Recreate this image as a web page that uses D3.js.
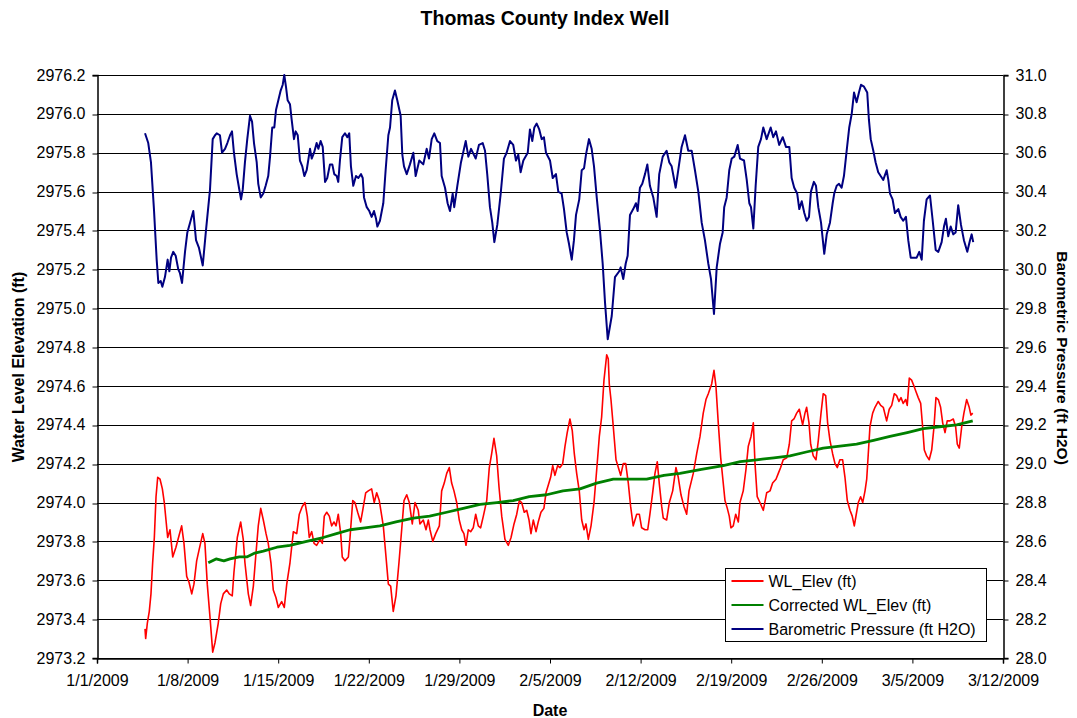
<!DOCTYPE html>
<html>
<head>
<meta charset="utf-8">
<script src="https://cdn.jsdelivr.net/npm/d3@7"></script>
<style>
  body { margin: 0; background: #fff; }
  svg text { font-family: "Liberation Sans", Arial, sans-serif; }
</style>
</head>
<body>
<div id="chart"></div>
<script>
// days since 1/1/2009, value
const startDate = Date.UTC(2009, 0, 1);
const tickDays = [0, 7, 14, 21, 28, 35, 42, 49, 56, 63, 70];
const leftTicks = d3.range(0, 16).map(i => 2973.2 + i * 0.2);
const rightTicks = d3.range(0, 16).map(i => 28.0 + i * 0.2);

const seriesNames = ['WL_Elev (ft)', 'Corrected WL_Elev (ft)', 'Barometric Pressure (ft H2O)'];
const seriesColors = ['#ff0000', '#008000', '#000080'];

const wlElev = [
  [3.71,2973.35],[3.76,2973.30],[3.89,2973.38],[4.04,2973.44],[4.17,2973.53],[4.30,2973.69],[4.43,2973.82],[4.56,2974.03],
  [4.69,2974.13],[4.87,2974.12],[5.05,2974.07],[5.20,2974.00],[5.33,2973.91],[5.46,2973.82],[5.64,2973.86],[5.85,2973.72],
  [6.10,2973.77],[6.34,2973.83],[6.54,2973.88],[6.72,2973.79],[6.93,2973.62],[7.11,2973.59],[7.32,2973.53],[7.49,2973.58],
  [7.70,2973.70],[7.90,2973.76],[8.17,2973.84],[8.34,2973.79],[8.52,2973.58],[8.73,2973.41],[8.94,2973.23],[9.12,2973.28],
  [9.37,2973.38],[9.56,2973.48],[9.76,2973.53],[10.02,2973.55],[10.22,2973.53],[10.45,2973.52],[10.58,2973.64],[10.84,2973.82],
  [11.10,2973.90],[11.30,2973.81],[11.43,2973.69],[11.69,2973.53],[11.87,2973.47],[12.08,2973.57],[12.26,2973.72],[12.46,2973.88],
  [12.65,2973.97],[12.85,2973.91],[13.06,2973.84],[13.23,2973.79],[13.44,2973.69],[13.62,2973.55],[13.83,2973.51],[14.01,2973.46],
  [14.27,2973.49],[14.47,2973.46],[14.66,2973.58],[14.91,2973.69],[15.17,2973.85],[15.43,2973.84],[15.63,2973.94],[15.86,2973.98],
  [16.07,2974.00],[16.25,2973.93],[16.40,2973.82],[16.59,2973.85],[16.77,2973.79],[16.97,2973.78],[17.23,2973.81],[17.41,2973.79],
  [17.56,2973.93],[17.75,2973.95],[17.95,2973.93],[18.13,2973.88],[18.31,2973.90],[18.47,2973.88],[18.64,2973.94],[18.83,2973.84],
  [18.95,2973.72],[19.16,2973.70],[19.42,2973.72],[19.55,2973.82],[19.76,2974.01],[19.93,2974.00],[20.14,2973.95],[20.37,2973.90],
  [20.53,2973.96],[20.76,2974.05],[20.96,2974.06],[21.22,2974.07],[21.42,2974.00],[21.61,2974.05],[21.81,2974.01],[22.12,2973.88],
  [22.33,2973.72],[22.51,2973.58],[22.69,2973.57],[22.89,2973.44],[23.10,2973.52],[23.33,2973.69],[23.54,2973.86],[23.72,2974.01],
  [23.93,2974.04],[24.13,2974.00],[24.36,2973.89],[24.57,2974.00],[24.82,2973.96],[24.95,2973.89],[25.21,2973.91],[25.42,2973.86],
  [25.60,2973.91],[25.73,2973.86],[25.94,2973.80],[26.17,2973.84],[26.45,2973.88],[26.63,2974.06],[26.83,2974.10],[27.02,2974.15],
  [27.22,2974.18],[27.40,2974.10],[27.58,2974.06],[27.79,2974.00],[27.99,2973.91],[28.18,2973.86],[28.35,2973.84],[28.51,2973.78],
  [28.69,2973.86],[28.87,2973.85],[29.07,2973.87],[29.26,2973.94],[29.46,2973.88],[29.64,2973.87],[29.85,2973.93],[30.11,2974.01],
  [30.31,2974.18],[30.49,2974.25],[30.67,2974.33],[30.88,2974.24],[31.06,2974.08],[31.27,2973.93],[31.52,2973.81],[31.78,2973.78],
  [31.99,2973.82],[32.22,2973.89],[32.43,2973.94],[32.63,2974.01],[32.81,2974.00],[33.01,2973.95],[33.20,2973.96],[33.38,2973.91],
  [33.53,2973.84],[33.71,2973.91],[33.92,2973.85],[34.09,2973.90],[34.30,2973.95],[34.53,2973.97],[34.69,2974.05],[34.87,2974.09],
  [35.05,2974.13],[35.21,2974.19],[35.38,2974.14],[35.59,2974.19],[35.77,2974.18],[35.98,2974.20],[36.16,2974.29],[36.33,2974.36],
  [36.54,2974.43],[36.72,2974.37],[36.88,2974.25],[37.06,2974.15],[37.26,2974.06],[37.45,2973.91],[37.63,2973.86],[37.78,2973.89],
  [37.96,2973.81],[38.17,2973.88],[38.40,2974.00],[38.61,2974.17],[38.81,2974.34],[38.99,2974.44],[39.17,2974.63],[39.38,2974.76],
  [39.50,2974.74],[39.58,2974.61],[39.71,2974.53],[39.89,2974.39],[40.10,2974.22],[40.28,2974.18],[40.46,2974.14],[40.66,2974.20],
  [40.85,2974.20],[41.05,2974.10],[41.23,2973.98],[41.43,2973.88],[41.70,2973.94],[41.90,2973.94],[42.08,2973.87],[42.34,2973.86],
  [42.55,2973.86],[42.72,2973.94],[42.93,2974.05],[43.11,2974.15],[43.29,2974.21],[43.44,2974.10],[43.63,2973.98],[43.75,2973.92],
  [44.01,2973.91],[44.22,2974.00],[44.48,2974.06],[44.73,2974.18],[44.91,2974.13],[45.12,2974.04],[45.35,2973.98],[45.56,2973.94],
  [45.74,2974.06],[46.07,2974.15],[46.33,2974.25],[46.59,2974.34],[46.84,2974.46],[47.05,2974.53],[47.23,2974.56],[47.49,2974.61],
  [47.67,2974.68],[47.82,2974.60],[48.00,2974.41],[48.19,2974.23],[48.34,2974.13],[48.52,2974.01],[48.70,2973.97],[48.85,2973.93],
  [48.98,2973.87],[49.16,2973.88],[49.35,2973.94],[49.55,2973.90],[49.68,2974.00],[49.93,2974.06],[50.14,2974.17],[50.32,2974.29],
  [50.53,2974.34],[50.71,2974.41],[50.84,2974.20],[51.01,2974.03],[51.22,2974.00],[51.48,2973.96],[51.74,2974.05],[52.00,2974.06],
  [52.20,2974.10],[52.46,2974.12],[52.64,2974.15],[52.82,2974.18],[53.02,2974.22],[53.29,2974.23],[53.49,2974.30],[53.67,2974.42],
  [53.85,2974.43],[54.06,2974.46],[54.26,2974.48],[54.52,2974.40],[54.70,2974.46],[54.83,2974.49],[55.01,2974.41],[55.14,2974.30],
  [55.34,2974.24],[55.55,2974.22],[55.73,2974.32],[55.94,2974.46],[56.11,2974.56],[56.30,2974.55],[56.45,2974.41],[56.63,2974.32],
  [56.84,2974.25],[57.02,2974.20],[57.20,2974.18],[57.40,2974.22],[57.61,2974.22],[57.79,2974.13],[57.97,2974.01],[58.18,2973.96],
  [58.35,2973.93],[58.51,2973.88],[58.69,2973.95],[58.82,2974.00],[59.00,2974.03],[59.16,2974.00],[59.34,2974.06],[59.47,2974.12],
  [59.59,2974.25],[59.72,2974.39],[59.93,2974.46],[60.11,2974.49],[60.36,2974.52],[60.55,2974.50],[60.75,2974.49],[61.01,2974.42],
  [61.21,2974.48],[61.40,2974.50],[61.60,2974.56],[61.78,2974.55],[61.96,2974.52],[62.12,2974.54],[62.29,2974.51],[62.48,2974.53],
  [62.60,2974.50],[62.76,2974.64],[62.94,2974.63],[63.12,2974.60],[63.28,2974.57],[63.45,2974.54],[63.64,2974.51],[63.79,2974.39],
  [63.92,2974.27],[64.10,2974.24],[64.30,2974.22],[64.49,2974.27],[64.67,2974.39],[64.82,2974.54],[65.00,2974.53],[65.18,2974.49],
  [65.34,2974.41],[65.52,2974.36],[65.69,2974.42],[65.90,2974.42],[66.16,2974.43],[66.34,2974.39],[66.47,2974.30],[66.62,2974.28],
  [66.81,2974.39],[66.98,2974.46],[67.19,2974.53],[67.39,2974.49],[67.52,2974.45],[67.66,2974.46]
];

const correctedWlElev = [
  [8.60,2973.69],[9.20,2973.71],[9.80,2973.70],[10.28,2973.71],[11.00,2973.72],[11.57,2973.72],[12.20,2973.74],[12.85,2973.75],
  [13.90,2973.77],[14.91,2973.78],[16.20,2973.80],[17.48,2973.82],[18.50,2973.84],[19.55,2973.86],[20.70,2973.87],[21.86,2973.88],
  [23.10,2973.90],[24.44,2973.92],[25.70,2973.93],[27.02,2973.95],[28.30,2973.97],[29.59,2973.99],[30.90,2974.00],[32.16,2974.01],
  [33.40,2974.03],[34.74,2974.04],[36.00,2974.06],[37.32,2974.07],[38.60,2974.10],[39.89,2974.12],[41.20,2974.12],[42.47,2974.12],
  [43.80,2974.14],[45.04,2974.15],[46.70,2974.17],[48.39,2974.19],[49.70,2974.21],[50.97,2974.22],[52.30,2974.23],[53.54,2974.24],
  [54.80,2974.26],[56.11,2974.28],[57.40,2974.29],[58.69,2974.30],[60.00,2974.32],[61.27,2974.34],[62.60,2974.36],[63.84,2974.38],
  [65.10,2974.39],[66.42,2974.40],[67.66,2974.42]
];

const baroPressure = [
  [3.71,30.70],[3.96,30.65],[4.17,30.55],[4.40,30.31],[4.61,30.05],[4.74,29.93],[4.92,29.94],[5.05,29.91],[5.25,29.96],[5.46,30.05],
  [5.59,29.99],[5.72,30.06],[5.89,30.09],[6.08,30.07],[6.28,30.00],[6.41,29.98],[6.57,29.93],[6.80,30.09],[6.98,30.19],[7.19,30.24],
  [7.44,30.30],[7.65,30.15],[7.88,30.11],[8.17,30.02],[8.42,30.20],[8.73,30.41],[8.94,30.67],[9.12,30.69],[9.25,30.70],[9.50,30.69],
  [9.66,30.60],[9.89,30.62],[10.07,30.65],[10.28,30.69],[10.43,30.71],[10.58,30.60],[10.79,30.49],[10.97,30.42],[11.13,30.36],[11.26,30.41],
  [11.43,30.55],[11.61,30.67],[11.82,30.79],[11.98,30.76],[12.13,30.65],[12.34,30.55],[12.46,30.44],[12.65,30.37],[12.85,30.39],[13.03,30.43],
  [13.23,30.48],[13.37,30.58],[13.54,30.73],[13.70,30.73],[13.83,30.82],[14.01,30.87],[14.19,30.92],[14.35,30.95],[14.47,31.00],[14.60,30.94],
  [14.73,30.87],[14.91,30.85],[15.04,30.77],[15.22,30.67],[15.35,30.71],[15.51,30.69],[15.68,30.56],[15.86,30.53],[16.02,30.48],[16.20,30.51],
  [16.46,30.62],[16.59,30.57],[16.77,30.60],[16.97,30.65],[17.10,30.62],[17.28,30.66],[17.44,30.63],[17.62,30.45],[17.79,30.47],[18.00,30.54],
  [18.18,30.54],[18.33,30.49],[18.52,30.48],[18.64,30.45],[18.77,30.56],[18.95,30.68],[19.16,30.70],[19.34,30.68],[19.49,30.70],[19.62,30.53],
  [19.80,30.43],[20.01,30.48],[20.19,30.47],[20.40,30.49],[20.53,30.47],[20.63,30.37],[20.84,30.32],[21.04,30.30],[21.22,30.27],[21.40,30.30],
  [21.56,30.26],[21.66,30.22],[21.86,30.25],[22.12,30.34],[22.30,30.51],[22.51,30.69],[22.64,30.73],[22.81,30.87],[23.02,30.92],[23.20,30.87],
  [23.46,30.79],[23.59,30.59],[23.72,30.53],[23.93,30.49],[24.18,30.54],[24.44,30.60],[24.62,30.48],[24.90,30.56],[25.21,30.54],[25.47,30.62],
  [25.65,30.57],[25.86,30.67],[26.06,30.70],[26.29,30.66],[26.50,30.65],[26.63,30.48],[26.89,30.42],[27.09,30.34],[27.27,30.30],[27.48,30.39],
  [27.60,30.32],[27.84,30.43],[28.12,30.55],[28.49,30.66],[28.69,30.58],[28.90,30.62],[29.26,30.57],[29.51,30.64],[29.80,30.65],[29.98,30.61],
  [30.15,30.49],[30.36,30.32],[30.54,30.24],[30.70,30.14],[30.93,30.23],[31.19,30.39],[31.44,30.57],[31.65,30.60],[31.91,30.66],[32.16,30.64],
  [32.37,30.56],[32.55,30.59],[32.73,30.50],[32.94,30.56],[33.28,30.60],[33.45,30.72],[33.63,30.66],[33.79,30.73],[33.97,30.75],[34.17,30.72],
  [34.36,30.67],[34.53,30.68],[34.69,30.60],[35.00,30.56],[35.21,30.47],[35.46,30.49],[35.64,30.40],[35.90,30.39],[36.08,30.31],[36.29,30.19],
  [36.47,30.13],[36.68,30.05],[36.85,30.15],[37.01,30.28],[37.26,30.36],[37.45,30.51],[37.63,30.52],[37.78,30.59],[38.01,30.67],[38.22,30.62],
  [38.40,30.53],[38.61,30.37],[38.86,30.20],[39.07,30.03],[39.25,29.83],[39.46,29.64],[39.77,29.76],[40.02,29.96],[40.35,29.99],[40.46,30.01],
  [40.66,29.95],[40.85,30.03],[41.00,30.07],[41.18,30.28],[41.43,30.31],[41.64,30.34],[41.77,30.30],[41.95,30.42],[42.13,30.44],[42.34,30.49],
  [42.52,30.54],[42.72,30.43],[42.98,30.37],[43.24,30.27],[43.44,30.49],[43.71,30.58],[44.01,30.61],[44.22,30.55],[44.40,30.53],[44.71,30.42],
  [44.91,30.51],[45.17,30.63],[45.43,30.69],[45.68,30.61],[45.95,30.61],[46.20,30.51],[46.46,30.40],[46.72,30.24],[46.97,30.15],[47.23,30.03],
  [47.44,29.95],[47.67,29.77],[47.88,30.01],[48.13,30.13],[48.34,30.19],[48.46,30.32],[48.65,30.37],[48.85,30.51],[49.04,30.57],[49.24,30.58],
  [49.50,30.64],[49.68,30.57],[49.99,30.56],[50.20,30.46],[50.40,30.34],[50.53,30.32],[50.71,30.21],[50.89,30.43],[51.09,30.63],[51.30,30.67],
  [51.48,30.73],[51.74,30.67],[52.05,30.73],[52.25,30.68],[52.46,30.71],[52.71,30.64],[52.98,30.68],[53.23,30.63],[53.49,30.63],[53.67,30.47],
  [53.87,30.42],[54.10,30.39],[54.26,30.31],[54.45,30.35],[54.65,30.29],[54.83,30.25],[55.01,30.27],[55.16,30.40],[55.39,30.45],[55.55,30.43],
  [55.73,30.32],[55.94,30.24],[56.19,30.08],[56.38,30.18],[56.63,30.24],[56.84,30.34],[56.96,30.39],[57.15,30.43],[57.33,30.44],[57.53,30.42],
  [57.71,30.48],[57.92,30.61],[58.12,30.73],[58.31,30.80],[58.49,30.91],[58.69,30.86],[58.87,30.91],[59.03,30.95],[59.26,30.94],[59.51,30.91],
  [59.64,30.77],[59.78,30.67],[59.98,30.61],[60.16,30.55],[60.36,30.50],[60.55,30.48],[60.75,30.46],[61.01,30.51],[61.14,30.46],[61.27,30.39],
  [61.47,30.36],[61.65,30.29],[61.91,30.31],[62.09,30.27],[62.29,30.25],[62.50,30.27],[62.68,30.15],[62.87,30.06],[63.07,30.06],[63.33,30.06],
  [63.53,30.09],[63.72,30.05],[63.89,30.25],[64.10,30.36],[64.36,30.38],[64.57,30.25],[64.80,30.10],[65.00,30.09],[65.26,30.14],[65.44,30.22],
  [65.59,30.26],[65.77,30.17],[65.96,30.22],[66.16,30.18],[66.34,30.19],[66.54,30.33],[66.75,30.23],[66.98,30.15],[67.24,30.09],[67.45,30.15],
  [67.58,30.18],[67.70,30.14]
];

const width = 1077, height = 718;
const margin = { top: 75, right: 74, bottom: 60, left: 97 };
const plotW = width - margin.left - margin.right;
const plotH = height - margin.top - margin.bottom;

const toDate = d => new Date(startDate + d * 86400000);

const svg = d3.select('#chart').append('svg')
  .attr('width', width)
  .attr('height', height);

const x = d3.scaleUtc()
  .domain([toDate(0), toDate(70)])
  .range([margin.left, margin.left + plotW]);
const yLeft = d3.scaleLinear()
  .domain([2973.2, 2976.2])
  .range([margin.top + plotH, margin.top]);
const yRight = d3.scaleLinear()
  .domain([28.0, 31.0])
  .range([margin.top + plotH, margin.top]);

// 격자선
svg.append('g')
  .selectAll('line')
  .data(leftTicks)
  .enter().append('line')
  .attr('x1', margin.left)
  .attr('x2', margin.left + plotW)
  .attr('y1', d => Math.round(yLeft(d)) + 0.5)
  .attr('y2', d => Math.round(yLeft(d)) + 0.5)
  .attr('stroke', '#000')
  .attr('stroke-width', 1);

// 축
const fmtDate = d3.utcFormat('%-m/%-d/%Y');
const xAxis = svg.append('g')
  .attr('transform', `translate(0,${margin.top + plotH + 0.5})`)
  .call(d3.axisBottom(x).tickValues(tickDays.map(toDate)).tickFormat(fmtDate).tickSizeOuter(0).tickSize(5).tickPadding(11));

const leftAxis = svg.append('g')
  .attr('transform', `translate(${margin.left + 0.5},0)`)
  .call(d3.axisLeft(yLeft).tickValues(leftTicks).tickFormat(d3.format('.1f')).tickSizeOuter(0).tickSize(5).tickPadding(7));

const rightAxis = svg.append('g')
  .attr('transform', `translate(${margin.left + plotW + 0.5},0)`)
  .call(d3.axisRight(yRight).tickValues(rightTicks).tickFormat(d3.format('.1f')).tickSizeOuter(0).tickSize(5).tickPadding(7));

[xAxis, leftAxis, rightAxis].forEach(a => {
  a.selectAll('path').attr('stroke', '#000').attr('stroke-width', 1.5);
  a.selectAll('line').attr('stroke', '#000');
  a.selectAll('text').attr('font-size', 16).attr('fill', '#000')
    .attr('font-family', '"Liberation Sans", Arial, sans-serif');
});
xAxis.selectAll('text').attr('dy', '0.71em');
leftAxis.selectAll('.tick line').attr('transform', d => `translate(0,${Math.round(yLeft(d)) + 0.5 - yLeft(d)})`);
rightAxis.selectAll('.tick line').attr('transform', d => `translate(0,${Math.round(yRight(d)) + 0.5 - yRight(d)})`);

// 선 그리기
const lineLeft = d3.line().x(d => x(toDate(d[0]))).y(d => yLeft(d[1]));
const lineRight = d3.line().x(d => x(toDate(d[0]))).y(d => yRight(d[1]));

svg.append('path')
  .datum(baroPressure)
  .attr('d', lineRight)
  .attr('fill', 'none')
  .attr('stroke', seriesColors[2])
  .attr('stroke-width', 2)
  .attr('stroke-linejoin', 'round');

svg.append('path')
  .datum(wlElev)
  .attr('d', lineLeft)
  .attr('fill', 'none')
  .attr('stroke', seriesColors[0])
  .attr('stroke-width', 1.6)
  .attr('stroke-linejoin', 'round');

svg.append('path')
  .datum(correctedWlElev)
  .attr('d', lineLeft)
  .attr('fill', 'none')
  .attr('stroke', seriesColors[1])
  .attr('stroke-width', 2.8)
  .attr('stroke-linejoin', 'round');

// 제목
svg.append('text')
  .attr('x', 545)
  .attr('y', 25)
  .attr('text-anchor', 'middle')
  .attr('font-size', 19.5)
  .attr('font-weight', 'bold')
  .text('Thomas County Index Well');

svg.append('text')
  .attr('x', 550)
  .attr('y', 716)
  .attr('text-anchor', 'middle')
  .attr('font-size', 16)
  .attr('font-weight', 'bold')
  .text('Date');

svg.append('text')
  .attr('transform', `translate(24,367) rotate(-90)`)
  .attr('text-anchor', 'middle')
  .attr('font-size', 16)
  .attr('font-weight', 'bold')
  .text('Water Level Elevation (ft)');

svg.append('text')
  .attr('transform', `translate(1057,358) rotate(90)`)
  .attr('text-anchor', 'middle')
  .attr('font-size', 15.5)
  .attr('font-weight', 'bold')
  .text('Barometric Pressure (ft H2O)');

// 범례
const legend = svg.append('g').attr('transform', 'translate(725.5,568.5)');
legend.append('rect')
  .attr('width', 261)
  .attr('height', 73)
  .attr('fill', '#fff')
  .attr('stroke', '#000')
  .attr('stroke-width', 1);

seriesNames.forEach((name, i) => {
  const yy = 12.5 + i * 24;
  legend.append('line')
    .attr('x1', 6).attr('x2', 38)
    .attr('y1', yy).attr('y2', yy)
    .attr('stroke', seriesColors[i])
    .attr('stroke-width', 2);
  legend.append('text')
    .attr('x', 43)
    .attr('y', yy + 5.5)
    .attr('font-size', 16)
    .text(name);
});
</script>
</body>
</html>
